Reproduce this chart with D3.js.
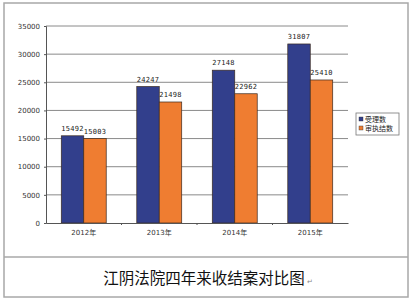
<!DOCTYPE html>
<html>
<head>
<meta charset="utf-8">
<script src="https://d3js.org/d3.v7.min.js"></script>
<style>
  body { margin: 0; background: #fff; }
</style>
</head>
<body>
<script>
const years = ["2012年", "2013年", "2014年", "2015年"];
const series = ["受理数", "审执结数"];
const accepted = [15492, 24247, 27148, 31807];
const closed = [15003, 21498, 22962, 25410];
const yTicks = [0, 5000, 10000, 15000, 20000, 25000, 30000, 35000];
const colors = ["#323f8c", "#ef7d31"];

const W = 413, H = 303;
const svg = d3.select("body").append("svg").attr("width", W).attr("height", H);

// outer frame + caption divider
svg.append("rect").attr("x", 4).attr("y", 3).attr("width", 404).attr("height", 294)
  .attr("fill", "none").attr("stroke", "#a8a8a8").attr("stroke-width", 1.5);
svg.append("line").attr("x1", 4).attr("x2", 408).attr("y1", 257).attr("y2", 257)
  .attr("stroke", "#a8a8a8").attr("stroke-width", 1.5);

const pL = 46, pR = 348, pT = 26, pB = 223;

const x = d3.scaleBand().domain(years).range([pL, pR]);
const xs = d3.scaleBand().domain(series).range([0, x.bandwidth()]).paddingInner(0).paddingOuter(0.68);
const y = d3.scaleLinear().domain([0, 35000]).range([pB, pT]);

// gridlines
svg.append("g").selectAll("line").data(yTicks.slice(1)).join("line")
  .attr("x1", pL).attr("x2", pR)
  .attr("y1", d => y(d)).attr("y2", d => y(d))
  .attr("stroke", "#8a8a8a").attr("stroke-width", 1);

// y axis
const yAxis = svg.append("g").attr("transform", `translate(${pL},0)`)
  .call(d3.axisLeft(y).tickValues(yTicks).tickSize(2).tickPadding(4).tickFormat(d3.format("d")));
yAxis.select(".domain").attr("stroke", "#555");
yAxis.selectAll(".tick line").attr("stroke", "#555");
yAxis.selectAll("text").attr("font-family", "DejaVu Sans").attr("font-size", 7).attr("fill", "#333");

// bars
const data = years.map((yr, i) => ({ yr, vals: [accepted[i], closed[i]] }));
const g = svg.append("g").selectAll("g").data(data).join("g")
  .attr("transform", d => `translate(${x(d.yr)},0)`);
g.selectAll("rect").data(d => d.vals.map((v, j) => ({ s: series[j], v, j }))).join("rect")
  .attr("x", d => xs(d.s)).attr("width", xs.bandwidth())
  .attr("y", d => y(d.v)).attr("height", d => y(0) - y(d.v))
  .attr("fill", d => colors[d.j]).attr("stroke", "#3a2a20").attr("stroke-width", 0.7);
g.selectAll("text").data(d => d.vals.map((v, j) => ({ s: series[j], v, j }))).join("text")
  .attr("x", d => xs(d.s) + xs.bandwidth() / 2).attr("y", d => y(d.v) - 5)
  .attr("text-anchor", "middle").attr("font-family", "DejaVu Sans Mono").attr("font-size", 7)
  .attr("letter-spacing", 0.3).attr("fill", "#222").text(d => d.v);

// x axis
const xAxis = svg.append("g").attr("transform", `translate(0,${pB})`)
  .call(d3.axisBottom(x).tickSize(0).tickPadding(7));
xAxis.select(".domain").attr("stroke", "#555");
xAxis.selectAll("text").attr("font-family", "DejaVu Sans, Noto Sans CJK SC").attr("font-size", 7).attr("fill", "#333");
svg.append("g").selectAll("line").data(years.slice(1)).join("line")
  .attr("x1", d => x(d)).attr("x2", d => x(d)).attr("y1", pB).attr("y2", pB + 2)
  .attr("stroke", "#555");

// legend
const lg = svg.append("g").attr("transform", "translate(356,113)");
lg.append("rect").attr("width", 43).attr("height", 22).attr("fill", "#fff")
  .attr("stroke", "#777").attr("stroke-width", 0.8);
series.forEach((s, i) => {
  lg.append("rect").attr("x", 3).attr("y", 4 + i * 9).attr("width", 4).attr("height", 4)
    .attr("fill", colors[i]).attr("stroke", "#333").attr("stroke-width", 0.4);
  lg.append("text").attr("x", 9).attr("y", 8.5 + i * 9)
    .attr("font-family", "Noto Sans CJK SC").attr("font-size", 7).attr("fill", "#222").text(s);
});

// caption
svg.append("text").attr("x", 204).attr("y", 284).attr("text-anchor", "middle")
  .attr("font-family", "Noto Sans CJK SC").attr("font-size", 15.5).attr("fill", "#111")
  .text("江阴法院四年来收结案对比图");
svg.append("text").attr("x", 307).attr("y", 284).attr("font-family", "DejaVu Sans")
  .attr("font-size", 7).attr("fill", "#888").text("↵");
</script>
</body>
</html>
